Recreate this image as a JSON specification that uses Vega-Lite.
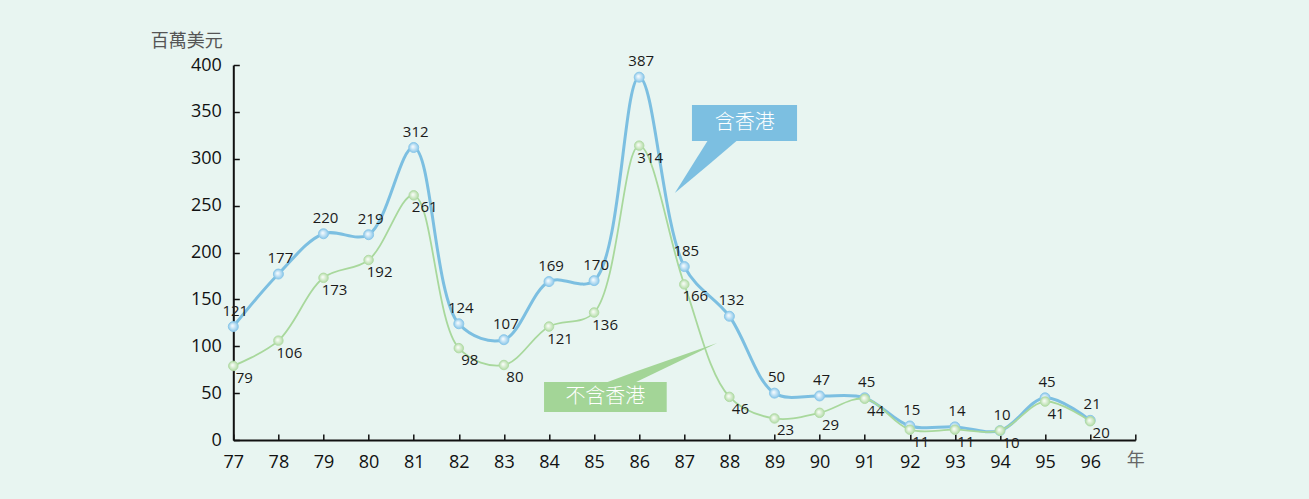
{
  "$schema": "https://vega.github.io/schema/vega-lite/v6.json",
  "width": 902,
  "height": 375,
  "autosize": {"type": "none"},
  "padding": {"left": 233.3, "top": 65, "right": 173.7, "bottom": 59},
  "background": "#e8f5f1",
  "config": {
    "font": "Open Sans",
    "view": {"stroke": null}
  },
  "datasets": {
    "series": [
      {"year": 77, "series": "含香港", "value": 121},
      {"year": 78, "series": "含香港", "value": 177},
      {"year": 79, "series": "含香港", "value": 220},
      {"year": 80, "series": "含香港", "value": 219},
      {"year": 81, "series": "含香港", "value": 312},
      {"year": 82, "series": "含香港", "value": 124},
      {"year": 83, "series": "含香港", "value": 107},
      {"year": 84, "series": "含香港", "value": 169},
      {"year": 85, "series": "含香港", "value": 170},
      {"year": 86, "series": "含香港", "value": 387},
      {"year": 87, "series": "含香港", "value": 185},
      {"year": 88, "series": "含香港", "value": 132},
      {"year": 89, "series": "含香港", "value": 50},
      {"year": 90, "series": "含香港", "value": 47},
      {"year": 91, "series": "含香港", "value": 45},
      {"year": 92, "series": "含香港", "value": 15},
      {"year": 93, "series": "含香港", "value": 14},
      {"year": 94, "series": "含香港", "value": 10},
      {"year": 95, "series": "含香港", "value": 45},
      {"year": 96, "series": "含香港", "value": 21},
      {"year": 77, "series": "不含香港", "value": 79},
      {"year": 78, "series": "不含香港", "value": 106},
      {"year": 79, "series": "不含香港", "value": 173},
      {"year": 80, "series": "不含香港", "value": 192},
      {"year": 81, "series": "不含香港", "value": 261},
      {"year": 82, "series": "不含香港", "value": 98},
      {"year": 83, "series": "不含香港", "value": 80},
      {"year": 84, "series": "不含香港", "value": 121},
      {"year": 85, "series": "不含香港", "value": 136},
      {"year": 86, "series": "不含香港", "value": 314},
      {"year": 87, "series": "不含香港", "value": 166},
      {"year": 88, "series": "不含香港", "value": 46},
      {"year": 89, "series": "不含香港", "value": 23},
      {"year": 90, "series": "不含香港", "value": 29},
      {"year": 91, "series": "不含香港", "value": 44},
      {"year": 92, "series": "不含香港", "value": 11},
      {"year": 93, "series": "不含香港", "value": 11},
      {"year": 94, "series": "不含香港", "value": 10},
      {"year": 95, "series": "不含香港", "value": 41},
      {"year": 96, "series": "不含香港", "value": 20}
    ],
    "boxes": [
      {"series": "含香港", "x1": 87.17, "x2": 89.5, "y1": 318.9, "y2": 357.3, "tx": 88.34, "ty": 338},
      {"series": "不含香港", "x1": 83.89, "x2": 86.61, "y1": 29.9, "y2": 61.9, "tx": 85.25, "ty": 46}
    ],
    "pointers": [
      {"series": "含香港", "px": 86.79, "py": 263.5, "py2": 263.5},
      {"series": "含香港", "px": 87.52, "py": 319.5, "py2": 292.8},
      {"series": "含香港", "px": 88.17, "py": 319.5, "py2": 319.5},
      {"series": "不含香港", "px": 85.27, "py": 61.3, "py2": 61.3},
      {"series": "不含香港", "px": 85.91, "py": 72.7, "py2": 61.3},
      {"series": "不含香港", "px": 87.73, "py": 103.5, "py2": 103.5}
    ]
  },
  "encoding": {
    "x": {
      "field": "year", "type": "quantitative",
      "scale": {"domain": [77, 97], "nice": false, "zero": false},
      "axis": {
        "values": [77,78,79,80,81,82,83,84,85,86,87,88,89,90,91,92,93,94,95,96,97],
        "labelExpr": "datum.value == 97 ? '' : datum.label",
        "grid": false,
        "domainColor": "#111", "domainWidth": 2,
        "tickColor": "#111", "tickWidth": 1.5, "tickSize": -6,
        "labelFontSize": 18, "labelColor": "#111", "labelPadding": 19, "labelFlush": false,
        "title": "年", "titleFontSize": 18, "titleColor": "#666", "titleFontWeight": "normal",
        "titleX": 902, "titleY": 20, "titleAlign": "center", "titleBaseline": "middle",
        "titleFont": "Noto Sans CJK TC"
      }
    },
    "y": {
      "field": "value", "type": "quantitative",
      "scale": {"domain": [0, 400], "nice": false},
      "axis": {
        "values": [0,50,100,150,200,250,300,350,400],
        "grid": false,
        "domainColor": "#111", "domainWidth": 2,
        "tickColor": "#111", "tickWidth": 1.5, "tickSize": -6,
        "labelFontSize": 18, "labelColor": "#111", "labelPadding": 18,
        "title": "百萬美元", "titleFontSize": 18, "titleColor": "#555", "titleFontWeight": "normal",
        "titleFont": "Noto Sans CJK TC",
        "titleAngle": 0, "titleX": -47, "titleY": -24, "titleAlign": "center", "titleBaseline": "middle"
      }
    }
  },
  "layer": [
    {
      "data": {"name": "series"},
      "transform": [{"filter": "datum.series == '含香港'"}],
      "mark": {"type": "line", "interpolate": "catmull-rom", "color": "#7cbfe1", "strokeWidth": 3},
      "encoding": {}
    },
    {
      "data": {"name": "series"},
      "transform": [{"filter": "datum.series == '含香港'"}],
      "mark": {"type": "point", "filled": true, "size": 100, "stroke": "#8cc8ea", "strokeWidth": 1,
        "fill": {"gradient": "radial", "x1": 0.4, "y1": 0.4, "r1": 0, "x2": 0.5, "y2": 0.5, "r2": 0.5,
          "stops": [{"offset": 0, "color": "#ffffff"}, {"offset": 1, "color": "#8cc8ea"}]}, "opacity": 1},
      "encoding": {}
    },
    {
      "data": {"name": "series"},
      "transform": [{"filter": "datum.series == '不含香港'"}],
      "mark": {"type": "line", "interpolate": "catmull-rom", "color": "#a8d89c", "strokeWidth": 1.8},
      "encoding": {}
    },
    {
      "data": {"name": "series"},
      "transform": [{"filter": "datum.series == '不含香港'"}],
      "mark": {"type": "point", "filled": true, "size": 90, "stroke": "#b3dca7", "strokeWidth": 1,
        "fill": {"gradient": "radial", "x1": 0.4, "y1": 0.4, "r1": 0, "x2": 0.5, "y2": 0.5, "r2": 0.5,
          "stops": [{"offset": 0, "color": "#ffffff"}, {"offset": 1, "color": "#b3dca7"}]}, "opacity": 1},
      "encoding": {}
    },
    {
      "data": {"name": "series"},
      "transform": [{"filter": "datum.series == '含香港'"}],
      "mark": {"type": "text", "dx": 2, "dy": -16, "fontSize": 15, "color": "#1a1a1a", "baseline": "middle", "align": "center"},
      "encoding": {"text": {"field": "value", "type": "quantitative"}}
    },
    {
      "data": {"name": "series"},
      "transform": [{"filter": "datum.series == '不含香港'"}],
      "mark": {"type": "text", "dx": 11, "dy": 12, "fontSize": 15, "color": "#1a1a1a", "baseline": "middle", "align": "center"},
      "encoding": {"text": {"field": "value", "type": "quantitative"}}
    },
    {
      "data": {"name": "pointers"},
      "mark": {"type": "area", "interpolate": "linear"},
      "encoding": {
        "x": {"field": "px", "type": "quantitative"},
        "y": {"field": "py", "type": "quantitative"},
        "y2": {"field": "py2"},
        "color": {"field": "series", "type": "nominal", "scale": {"domain": ["含香港", "不含香港"], "range": ["#7cbfe1", "#a3d597"]}, "legend": null},
        "detail": {"field": "series"}
      }
    },
    {
      "data": {"name": "boxes"},
      "mark": {"type": "rect"},
      "encoding": {
        "x": {"field": "x1", "type": "quantitative"},
        "x2": {"field": "x2"},
        "y": {"field": "y1", "type": "quantitative"},
        "y2": {"field": "y2"},
        "color": {"field": "series", "type": "nominal", "scale": {"domain": ["含香港", "不含香港"], "range": ["#7cbfe1", "#a3d597"]}, "legend": null}
      }
    },
    {
      "data": {"name": "boxes"},
      "mark": {"type": "text", "font": "Noto Sans CJK TC", "fontSize": 20, "color": "#ffffff", "baseline": "middle", "align": "center", "fontWeight": 300},
      "encoding": {
        "x": {"field": "tx", "type": "quantitative"},
        "y": {"field": "ty", "type": "quantitative"},
        "text": {"field": "series", "type": "nominal"}
      }
    }
  ]
}
